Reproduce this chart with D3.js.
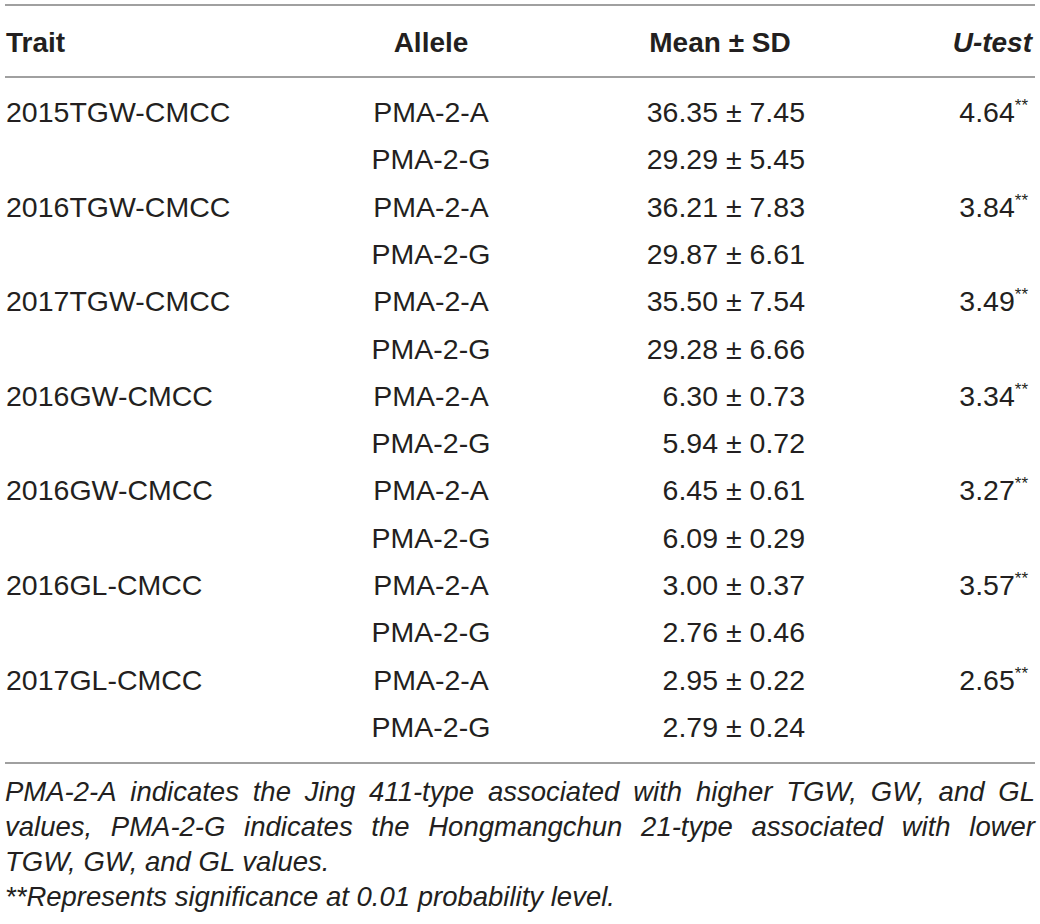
<!DOCTYPE html>
<html>
<head>
<meta charset="utf-8">
<script src="https://cdn.jsdelivr.net/npm/d3@7"></script>
<style>
	body { margin: 0; background: #fff; }
	svg { display: block; }
</style>
</head>
<body>
<div id="wrapper"></div>
<script>
// Data
const headers = ['Trait', 'Allele', 'Mean \u00b1 SD', 'U-test']
const traits = [
	'2015TGW-CMCC', '2016TGW-CMCC', '2017TGW-CMCC', '2016GW-CMCC',
	'2016GW-CMCC', '2016GL-CMCC', '2017GL-CMCC'
]
const alleles = ['PMA-2-A', 'PMA-2-G']
const means = [
	[36.35, 29.29], [36.21, 29.87], [35.50, 29.28], [6.30, 5.94],
	[6.45, 6.09], [3.00, 2.76], [2.95, 2.79]
]
const sds = [
	[7.45, 5.45], [7.83, 6.61], [7.54, 6.66], [0.73, 0.72],
	[0.61, 0.29], [0.37, 0.46], [0.22, 0.24]
]
const uTests = [4.64, 3.84, 3.49, 3.34, 3.27, 3.57, 2.65]
const footnotes = [
	'PMA-2-A indicates the Jing 411-type associated with higher TGW, GW, and GL',
	'values, PMA-2-G indicates the Hongmangchun 21-type associated with lower',
	'TGW, GW, and GL values.',
	'**Represents significance at 0.01 probability level.'
]

async function drawTable() {
	const dimensions = { width: 1040, height: 924 }
	const textColor = '#231f20'
	const ruleColor = '#a0a0a0'
	const font = "'Liberation Sans', Arial, Helvetica, sans-serif"

	// flatten rows: one per trait/allele pair
	const rows = []
	traits.forEach((t, i) => {
		alleles.forEach((a, j) => {
			rows.push({
				trait: j === 0 ? t : '',
				allele: a,
				mean: means[i][j],
				sd: sds[i][j],
				u: j === 0 ? uTests[i] : null
			})
		})
	})

	const wrapper = d3.select('#wrapper')
		.append('svg')
			.attr('width', dimensions.width)
			.attr('height', dimensions.height)
			.style('font-family', font)

	// Scales
	const yScale = d3.scalePoint()
		.domain(d3.range(rows.length))
		.range([122, 737])

	const cols = { trait: 6, allele: 431, meanHead: 720, mean: 805, uHead: 1032, u: 1028 }

	// Rules
	const rules = [5, 77, 763]
	wrapper.selectAll('line.rule')
		.data(rules)
		.join('line')
			.attr('class', 'rule')
			.attr('x1', 5)
			.attr('x2', 1035)
			.attr('y1', d => d)
			.attr('y2', d => d)
			.attr('stroke', ruleColor)
			.attr('stroke-width', 2)

	// Header
	const head = wrapper.append('g')
		.attr('font-size', 28)
		.attr('font-weight', 'bold')
		.attr('fill', textColor)
	const headPos = [
		{ x: cols.trait, anchor: 'start' },
		{ x: cols.allele, anchor: 'middle' },
		{ x: cols.meanHead, anchor: 'middle' },
		{ x: cols.uHead, anchor: 'end', italic: true }
	]
	head.selectAll('text')
		.data(headers)
		.join('text')
			.attr('x', (d, i) => headPos[i].x)
			.attr('y', 52)
			.attr('text-anchor', (d, i) => headPos[i].anchor)
			.attr('font-style', (d, i) => headPos[i].italic ? 'italic' : 'normal')
			.text(d => d)

	// Body
	const body = wrapper.append('g')
		.attr('font-size', 28.5)
		.attr('fill', textColor)

	const rowG = body.selectAll('g')
		.data(rows)
		.join('g')
			.attr('transform', (d, i) => `translate(0, ${yScale(i)})`)

	rowG.append('text')
		.attr('x', cols.trait)
		.text(d => d.trait)

	rowG.append('text')
		.attr('x', cols.allele)
		.attr('text-anchor', 'middle')
		.text(d => d.allele)

	rowG.append('text')
		.attr('x', cols.mean)
		.attr('text-anchor', 'end')
		.text(d => `${d.mean.toFixed(2)} \u00b1 ${d.sd.toFixed(2)}`)

	const uText = rowG.filter(d => d.u !== null)
		.append('text')
			.attr('x', cols.u)
			.attr('text-anchor', 'end')
	uText.append('tspan')
		.text(d => d.u.toFixed(2))
	uText.append('tspan')
		.attr('font-size', 17)
		.attr('dy', -11)
		.text('**')

	// Footnotes (first two lines justified by word spacing)
	const foot = wrapper.append('g')
		.attr('font-size', 27.5)
		.attr('font-style', 'italic')
		.attr('fill', textColor)
	const footY = d3.scalePoint()
		.domain(d3.range(footnotes.length))
		.range([801, 906])
	const lineLeft = 5, lineRight = 1035

	foot.selectAll('text')
		.data(footnotes)
		.join('text')
			.attr('y', (d, i) => footY(i))
			.each(function(d, i) {
				const t = d3.select(this)
				if (i >= 2) {
					t.attr('x', lineLeft).text(d)
					return
				}
				const words = d.split(' ')
				const spans = t.selectAll('tspan')
					.data(words)
					.join('tspan')
						.text(w => w)
				const widths = spans.nodes().map(n => n.getComputedTextLength())
				const gap = (lineRight - lineLeft - d3.sum(widths)) / (words.length - 1)
				let x = lineLeft
				spans.attr('x', (w, k) => {
					const pos = x
					x += widths[k] + gap
					return pos
				})
			})
}
drawTable()
</script>
</body>
</html>
